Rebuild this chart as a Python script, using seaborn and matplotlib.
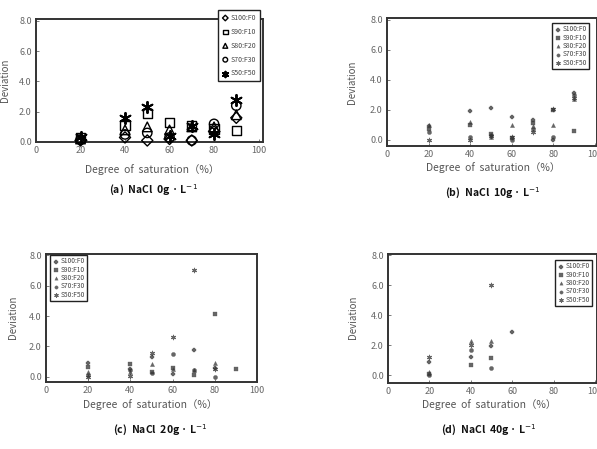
import numpy as np
import pandas as pd
import matplotlib
matplotlib.use("Agg")
import matplotlib.pyplot as plt
import seaborn as sns

nan = np.nan
series = ["S100:F0", "S90:F10", "S80:F20", "S70:F30", "S50:F50"]
x_ticks = [0, 20, 40, 60, 80, 100]
y_ticks = [0, 2, 4, 6, 8]

# (a) NaCl 0 g/L
x_a = [20, 40, 50, 60, 70, 80, 90]
a_S100 = [0.1, 0.3, 0.1, 0.2, 0.1, 0.7, 1.6]
a_S90 = [0.3, 1.1, 1.9, 1.3, 1.1, 0.85, 0.75]
a_S80 = [0.2, 0.8, 1.0, 0.8, 1.0, 1.0, 1.8]
a_S70 = [0.15, 0.5, 0.6, 0.3, 0.1, 1.2, 2.4]
a_S50 = [0.35, 1.6, 2.3, 0.4, 1.05, 0.5, 2.8]

# (b) NaCl 10 g/L
x_b = [20, 40, 50, 60, 70, 80, 90]
b_S100 = [0.9, 1.9, 2.1, 1.5, 1.3, 0.0, 3.1]
b_S90 = [0.75, 1.0, 0.4, 0.1, 1.1, 2.0, 0.6]
b_S80 = [1.0, 1.2, 0.2, 1.0, 0.9, 1.0, 2.7]
b_S70 = [0.5, 0.2, 0.3, 0.0, 0.7, 0.2, 3.0]
b_S50 = [0.0, 0.0, 0.25, 0.2, 0.5, 2.05, 2.8]

# (c) NaCl 20 g/L
x_c = [20, 40, 50, 60, 70, 80, 90]
c_S100 = [0.9, 0.55, 1.3, 0.2, 1.75, 0.6, nan]
c_S90 = [0.65, 0.85, 0.3, 0.6, 0.1, 4.1, 0.5]
c_S80 = [0.35, 0.3, 0.85, 0.5, 0.45, 0.9, nan]
c_S70 = [0.15, 0.45, 0.25, 1.5, 0.45, 0.0, nan]
c_S50 = [0.0, 0.05, 1.55, 2.6, 7.0, 0.55, nan]

# (d) NaCl 40 g/L
x_d = [20, 40, 50, 60]
d_S100 = [0.9, 1.2, 1.95, 2.9]
d_S90 = [0.1, 0.7, 1.15, nan]
d_S80 = [0.2, 2.3, 2.3, nan]
d_S70 = [0.0, 1.7, 0.45, nan]
d_S50 = [1.2, 2.0, 6.0, nan]

titles = ["(a)  NaCl  0g · L$^{-1}$", "(b)  NaCl  10g · L$^{-1}$",
          "(c)  NaCl  20g · L$^{-1}$", "(d)  NaCl  40g · L$^{-1}$"]
xlabel = "Degree  of  saturation（%）"
ylabel = "Deviation"

sns.set_theme(style="white")
plt.rcParams["font.family"] = ["Noto Sans CJK KR", "DejaVu Sans"]
plt.rcParams["axes.unicode_minus"] = False

W, H = 597, 449
fig = plt.figure(figsize=(W / 100, H / 100), dpi=100)


def rect(l, t, r, b):
    return [l / W, 1 - b / H, (r - l) / W, (b - t) / H]


def fx(px):
    return px / W


def fy(py):
    return 1 - py / H


panels = [
    dict(x=x_a, ys=[a_S100, a_S90, a_S80, a_S70, a_S50], box=(36, 19, 263, 142),
         xlim=(0, 102), ylim=(0, 8.13), big=True,
         leg=(218, 10), ylab=(5, 80), xlab=(152, 170), title=(154, 190)),
    dict(x=x_b, ys=[b_S100, b_S90, b_S80, b_S70, b_S50], box=(387, 18, 597, 146),
         xlim=(0, 101), ylim=(-0.4, 8.13), big=False,
         leg=(552, 23), ylab=(352, 82), xlab=(493, 168), title=(493, 193)),
    dict(x=x_c, ys=[c_S100, c_S90, c_S80, c_S70, c_S50], box=(46, 254, 257, 382),
         xlim=(0, 100), ylim=(-0.33, 8.07), big=False,
         leg=(50, 255), ylab=(13, 317), xlab=(150, 405), title=(160, 430)),
    dict(x=x_d, ys=[d_S100, d_S90, d_S80, d_S70, d_S50], box=(388, 254, 597, 383),
         xlim=(0, 101), ylim=(-0.53, 8.07), big=False,
         leg=(555, 260), ylab=(353, 317), xlab=(489, 405), title=(489, 430)),
]

big_markers = ["D", "s", "^", "o", (6, 2, 0)]
big_sizes = [32, 45, 48, 45, 65]
small_markers = ["P", "s", "^", "o", (6, 2, 0)]

for i, p in enumerate(panels):
    ax = fig.add_axes(rect(*p["box"]))
    for j, (name, yv) in enumerate(zip(series, p["ys"])):
        df = pd.DataFrame({"x": p["x"], "y": yv}).dropna()
        if p["big"]:
            m = big_markers[j]
            if j == 4:
                sns.scatterplot(data=df, x="x", y="y", ax=ax, marker=m, s=big_sizes[j],
                                color="black", linewidth=1.4, label=name, clip_on=False, zorder=3)
            else:
                sns.scatterplot(data=df, x="x", y="y", ax=ax, marker=m, s=big_sizes[j],
                                facecolor="none", edgecolor="black", linewidth=1.0,
                                label=name, clip_on=False, zorder=3)
        else:
            m = small_markers[j]
            if j == 4:
                sns.scatterplot(data=df, x="x", y="y", ax=ax, marker=m, s=10,
                                color="#333333", linewidth=0.8, label=name,
                                clip_on=False, alpha=0.75, zorder=3)
            else:
                sns.scatterplot(data=df, x="x", y="y", ax=ax, marker=m, s=9,
                                color="#333333", edgecolor="#555555", linewidth=0.3,
                                label=name, clip_on=False, alpha=0.75, zorder=3)
    ax.set_xlim(*p["xlim"])
    ax.set_ylim(*p["ylim"])
    ax.set_xticks(x_ticks)
    ax.set_xticklabels([str(t) for t in x_ticks])
    ax.set_yticks(y_ticks)
    ax.set_yticklabels([f"{t:.1f}" for t in y_ticks])
    ax.tick_params(axis="both", direction="in", length=2, width=0.6, colors="#666666",
                   labelsize=6.5, pad=3, left=True, bottom=True)
    ax.set_xlabel("")
    ax.set_ylabel("")
    for s in ax.spines.values():
        s.set_color("#333333")
        s.set_linewidth(1.4)
    # legend
    lx, ly = p["leg"]
    if p["big"]:
        leg = ax.legend(loc="upper left", bbox_to_anchor=(fx(lx), fy(ly)),
                        bbox_transform=fig.transFigure, fontsize=5, markerscale=0.5,
                        labelspacing=0.85, handletextpad=0.2, handlelength=1.0,
                        borderpad=0.55, borderaxespad=0, fancybox=False, framealpha=1,
                        edgecolor="#222222")
    else:
        leg = ax.legend(loc="upper left", bbox_to_anchor=(fx(lx), fy(ly)),
                        bbox_transform=fig.transFigure, fontsize=4.8, markerscale=0.8,
                        labelspacing=0.05, handletextpad=0.2, handlelength=1.0,
                        borderpad=0.35, borderaxespad=0, fancybox=False, framealpha=1,
                        edgecolor="#222222")
    leg.get_frame().set_linewidth(1.0)
    leg.set_zorder(10)
    for t in leg.get_texts():
        t.set_color("#444444")
    # labels
    fig.text(fx(p["ylab"][0]), fy(p["ylab"][1]), ylabel, rotation=90, ha="center",
             va="center", fontsize=7, color="#555555")
    fig.text(fx(p["xlab"][0]), fy(p["xlab"][1]), xlabel, ha="center", va="center",
             fontsize=7.5, color="#555555")
    fig.text(fx(p["title"][0]), fy(p["title"][1]), titles[i], ha="center", va="center",
             fontsize=7.5, fontweight="bold", color="#111111")

fig.savefig("out.png", dpi=100, facecolor="white")
